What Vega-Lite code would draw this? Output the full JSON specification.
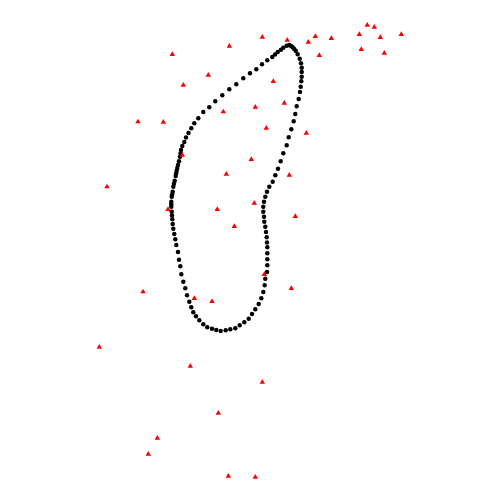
{
"$schema": "https://vega.github.io/schema/vega-lite/v6.json",
"width": 500, "height": 500,
"autosize": {"type": "fit", "contains": "padding"},
"padding": 0,
"config": {"view": {"stroke": null}},
"datasets": {
"curve": [
{"x":289.3,"y":45},{"x":286.7,"y":45.7},{"x":283.3,"y":47.7},{"x":281,"y":49.7},{"x":277.7,"y":52},{"x":275,"y":54.5},{"x":272.3,"y":57},{"x":267.3,"y":60.3},{"x":262,"y":64.3},{"x":256.3,"y":69.3},{"x":250,"y":73.3},{"x":243.3,"y":78.3},{"x":236.3,"y":84.3},{"x":229.3,"y":89.3},{"x":222.3,"y":95.3},{"x":215.3,"y":101.3},{"x":209.3,"y":107.3},{"x":203.3,"y":112},{"x":198.3,"y":118.3},{"x":194.3,"y":123.3},{"x":191.3,"y":128.3},{"x":188.5,"y":133},{"x":186,"y":137.5},{"x":184.3,"y":142},{"x":182.3,"y":146},{"x":181,"y":150},{"x":180.5,"y":153.5},{"x":180,"y":156.7},{"x":179,"y":161.3},{"x":178,"y":165},{"x":177.3,"y":168},{"x":176.7,"y":170.7},{"x":176.2,"y":173.3},{"x":175.7,"y":176},{"x":174.7,"y":180.7},{"x":174,"y":183.7},{"x":173.3,"y":186.7},{"x":172.7,"y":191.7},{"x":172.2,"y":194.2},{"x":171.7,"y":196.7},{"x":171.3,"y":201.7},{"x":171.3,"y":204.2},{"x":171.3,"y":206.7},{"x":171.7,"y":211.7},{"x":172,"y":215.5},{"x":172.3,"y":219.3},{"x":172.7,"y":224},{"x":173.3,"y":228.7},{"x":174.3,"y":234},{"x":175.3,"y":239.3},{"x":176.3,"y":245},{"x":178,"y":252},{"x":179,"y":259.7},{"x":180.3,"y":266.3},{"x":181.3,"y":274.3},{"x":183.3,"y":281.7},{"x":185.3,"y":288.3},{"x":187,"y":295.3},{"x":189.3,"y":301.7},{"x":191.3,"y":307.3},{"x":193.3,"y":312.3},{"x":196,"y":316.3},{"x":199.3,"y":320.3},{"x":203.3,"y":324.3},{"x":207.3,"y":327.3},{"x":212,"y":328.7},{"x":216.3,"y":330},{"x":220.7,"y":331},{"x":225.7,"y":330.3},{"x":230.3,"y":329.3},{"x":235.3,"y":328.3},{"x":239.7,"y":325.3},{"x":244.3,"y":322.3},{"x":248.7,"y":318.7},{"x":252,"y":314},{"x":255.3,"y":309.3},{"x":258.7,"y":304},{"x":261.3,"y":298.3},{"x":263.3,"y":292},{"x":264.7,"y":285.3},{"x":265.3,"y":278.7},{"x":267,"y":272},{"x":267.3,"y":265.3},{"x":267.3,"y":259.3},{"x":267.3,"y":253.3},{"x":267.3,"y":247.3},{"x":267,"y":242.5},{"x":266.7,"y":237.3},{"x":266,"y":232},{"x":265.3,"y":226.7},{"x":264.3,"y":221.7},{"x":264,"y":216.7},{"x":263.3,"y":211.7},{"x":263.3,"y":206.7},{"x":264,"y":201.7},{"x":265.3,"y":196.7},{"x":267,"y":191.7},{"x":269.3,"y":186.7},{"x":272.7,"y":181.7},{"x":275.3,"y":175.3},{"x":278,"y":168.7},{"x":280.7,"y":161.3},{"x":283.3,"y":153.3},{"x":286.7,"y":145.3},{"x":288.7,"y":137.3},{"x":291.3,"y":129.3},{"x":293.7,"y":121.3},{"x":295.3,"y":114},{"x":296.7,"y":106.3},{"x":298.7,"y":99},{"x":300,"y":92},{"x":300.7,"y":86.7},{"x":301.3,"y":81.3},{"x":301.7,"y":76.7},{"x":301.7,"y":72},{"x":301.7,"y":67.7},{"x":301,"y":63.3},{"x":299.7,"y":58.7},{"x":297.7,"y":54.3},{"x":295.7,"y":50.7},{"x":294,"y":48.8},{"x":292.7,"y":47.3},{"x":291,"y":46}
],
"obs": [
{"x":172.3,"y":53.7},{"x":229.3,"y":45.3},{"x":262.3,"y":36.3},{"x":287.3,"y":39.3},{"x":308.3,"y":41.3},{"x":315.3,"y":35.7},{"x":331.3,"y":37.7},{"x":319.3,"y":54.7},{"x":359.3,"y":33.7},{"x":367.3,"y":24.3},{"x":374.3,"y":26.3},{"x":380.3,"y":36.7},{"x":401.3,"y":33.7},{"x":361.3,"y":48.7},{"x":384.3,"y":52.3},
{"x":208.3,"y":74.3},{"x":183.3,"y":84.3},{"x":273.3,"y":80.7},{"x":138,"y":121},{"x":163.3,"y":121.3},{"x":223.3,"y":111},{"x":255.3,"y":106.3},{"x":284.3,"y":102.3},{"x":266.3,"y":127.3},{"x":306.3,"y":132.3},
{"x":182.3,"y":154.3},{"x":251.3,"y":158.7},{"x":226.3,"y":173.3},{"x":289.3,"y":174.3},{"x":107,"y":186},{"x":168,"y":208.7},{"x":217.3,"y":208.7},{"x":254.3,"y":202.3},{"x":295.3,"y":215.7},{"x":234.3,"y":225.7},
{"x":264.3,"y":273.7},{"x":291.3,"y":287.7},{"x":143,"y":291},{"x":194.3,"y":297.7},{"x":212,"y":300.7},
{"x":99.3,"y":346.3},{"x":190.3,"y":365.3},{"x":262.3,"y":381.3},{"x":218.3,"y":412.3},{"x":157.3,"y":437.3},{"x":148.3,"y":453.3},{"x":228.3,"y":475.3},{"x":255.3,"y":476.3}
]
},
"layer": [
{"data": {"name": "curve"},
 "mark": {"type": "point", "shape": "circle", "filled": true, "color": "black", "opacity": 1, "size": 20},
 "encoding": {
  "x": {"field": "x", "type": "quantitative", "scale": {"domain": [0, 500], "nice": false, "zero": false}, "axis": null},
  "y": {"field": "y", "type": "quantitative", "scale": {"domain": [0, 500], "nice": false, "zero": false, "reverse": true}, "axis": null}
 }},
{"data": {"name": "obs"},
 "mark": {"type": "point", "shape": "triangle-up", "filled": true, "color": "red", "opacity": 1, "size": 30},
 "encoding": {
  "x": {"field": "x", "type": "quantitative", "scale": {"domain": [0, 500], "nice": false, "zero": false}, "axis": null},
  "y": {"field": "y", "type": "quantitative", "scale": {"domain": [0, 500], "nice": false, "zero": false, "reverse": true}, "axis": null}
 }}
]
}
